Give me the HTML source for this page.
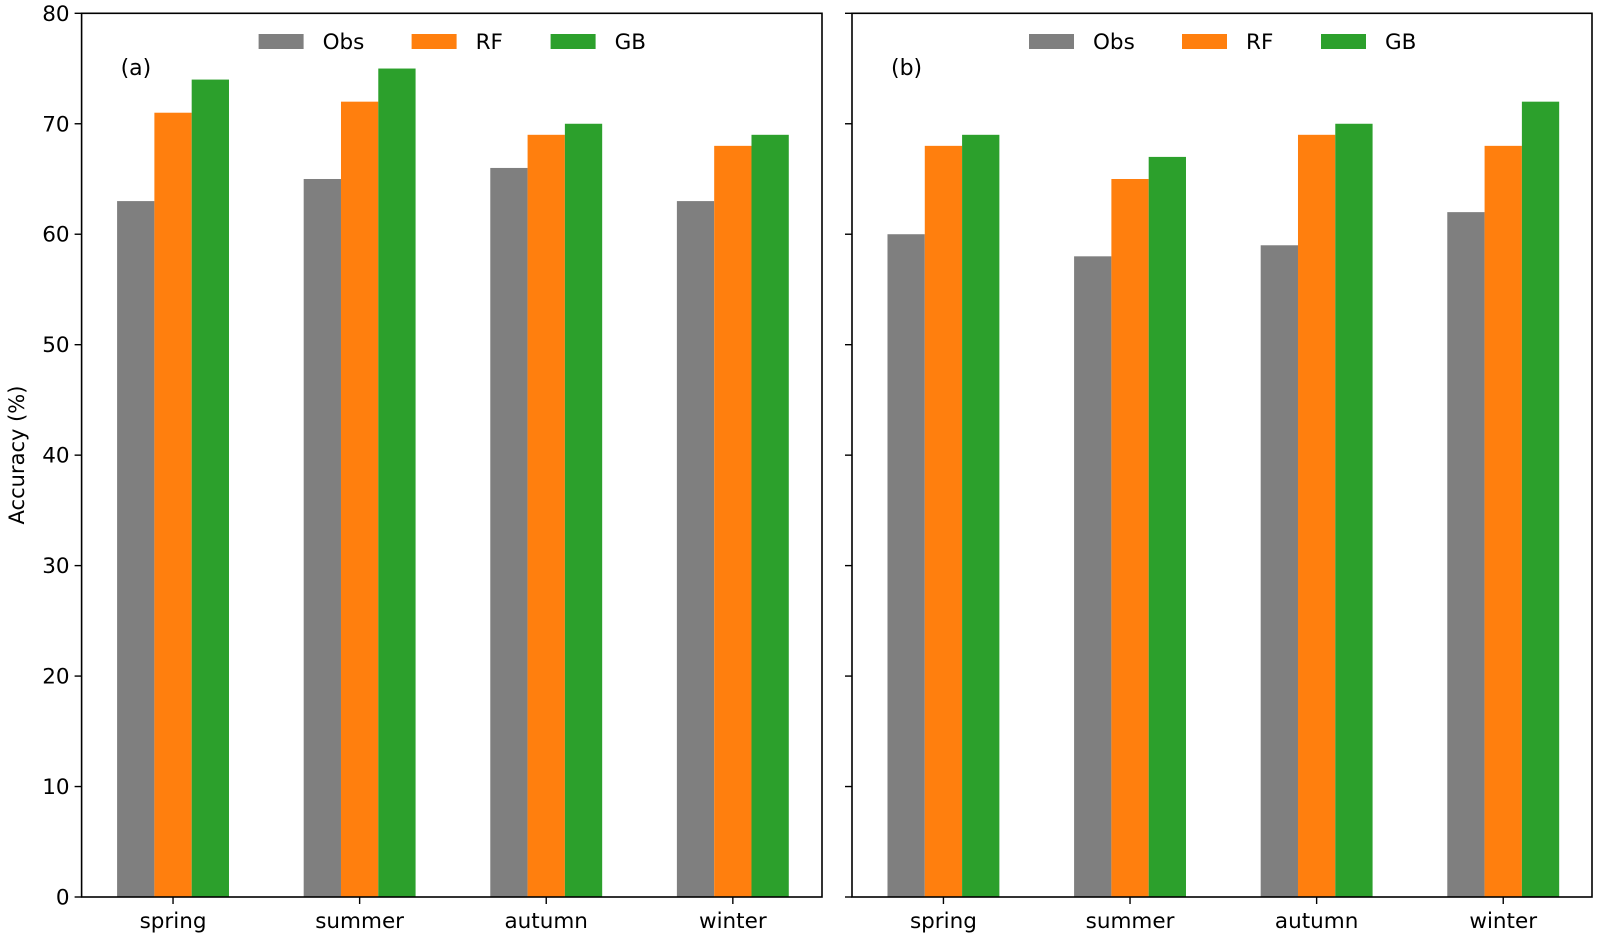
<!DOCTYPE html>
<html><head><meta charset="utf-8"><style>
body{margin:0;background:#fff}
svg{display:block;font-family:"DejaVu Sans","Liberation Sans",sans-serif}
</style></head><body>
<svg id="chart" width="1600" height="933"></svg>
<script>
const categories=["spring","summer","autumn","winter"];
const seriesNames=["Obs","RF","GB"];
const colors=["#7f7f7f","#ff7f0e","#2ca02c"];
const panelA_obs=[63,65,66,63];
const panelA_rf=[71,72,69,68];
const panelA_gb=[74,75,70,69];
const panelB_obs=[60,58,59,62];
const panelB_rf=[68,65,69,68];
const panelB_gb=[69,67,70,72];
const yTicks=[0,10,20,30,40,50,60,70,80];
const panelLabels=["(a)","(b)"];
const NS="http://www.w3.org/2000/svg";
const svg=document.getElementById('chart');
function mk(t,a,p){const e=document.createElementNS(NS,t);for(const k in a)e.setAttribute(k,a[k]);(p||svg).appendChild(e);return e;}
const yTop=13.3,yBot=897;
function y(v){return yBot-(v/80)*(yBot-yTop);}
const panels=[{x0:81.6,x1:822,data:[panelA_obs,panelA_rf,panelA_gb],lab:true},{x0:852,x1:1592,data:[panelB_obs,panelB_rf,panelB_gb],lab:false}];
const span=186.6,bw=37.3,fs=21.5;
panels.forEach((p,pi)=>{
  const g=mk('g',{});
  
  
  function xc(i){return p.x0+(i+0.49)*span;}
  p.data.forEach((arr,s)=>{arr.forEach((v,i)=>{
    const r=mk('rect',{x:xc(i)+(s-1.5)*bw,y:y(v),width:bw,height:yBot-y(v),fill:colors[s]},g);
    
    
  });});
  mk('rect',{x:p.x0,y:yTop,width:p.x1-p.x0,height:yBot-yTop,fill:'none',stroke:'#000','stroke-width':1.6},g);
  yTicks.forEach(t=>{
    mk('line',{x1:p.x0-7,x2:p.x0,y1:y(t),y2:y(t),stroke:'#000','stroke-width':1.4},g);
    if(p.lab){const tx=mk('text',{x:p.x0-12,y:y(t)+7.5,'text-anchor':'end','font-size':fs},g);tx.textContent=t;
      }
  });
  categories.forEach((c,i)=>{
    mk('line',{x1:xc(i),x2:xc(i),y1:yBot,y2:yBot+7,stroke:'#000','stroke-width':1.4},g);
    const tx=mk('text',{x:xc(i),y:yBot+31,'text-anchor':'middle','font-size':fs},g);tx.textContent=c;
    
  });
  const pl=mk('text',{x:p.x0+39,y:75,'font-size':22},g);pl.textContent=panelLabels[pi];
  
  const lx=[p.x0+177,p.x0+330,p.x0+469];
  seriesNames.forEach((n,s)=>{
    const le=mk('g',{},g);
    
    
    mk('rect',{x:lx[s],y:34,width:45,height:15,fill:colors[s]},le);
    const t=mk('text',{x:lx[s]+64,y:49,'font-size':fs},le);t.textContent=n;
  });
});
const yl=mk('text',{x:0,y:0,'font-size':21,'text-anchor':'middle',transform:'translate(24,455) rotate(-90)'});
yl.textContent='Accuracy (%)';


</script>
</body></html>
